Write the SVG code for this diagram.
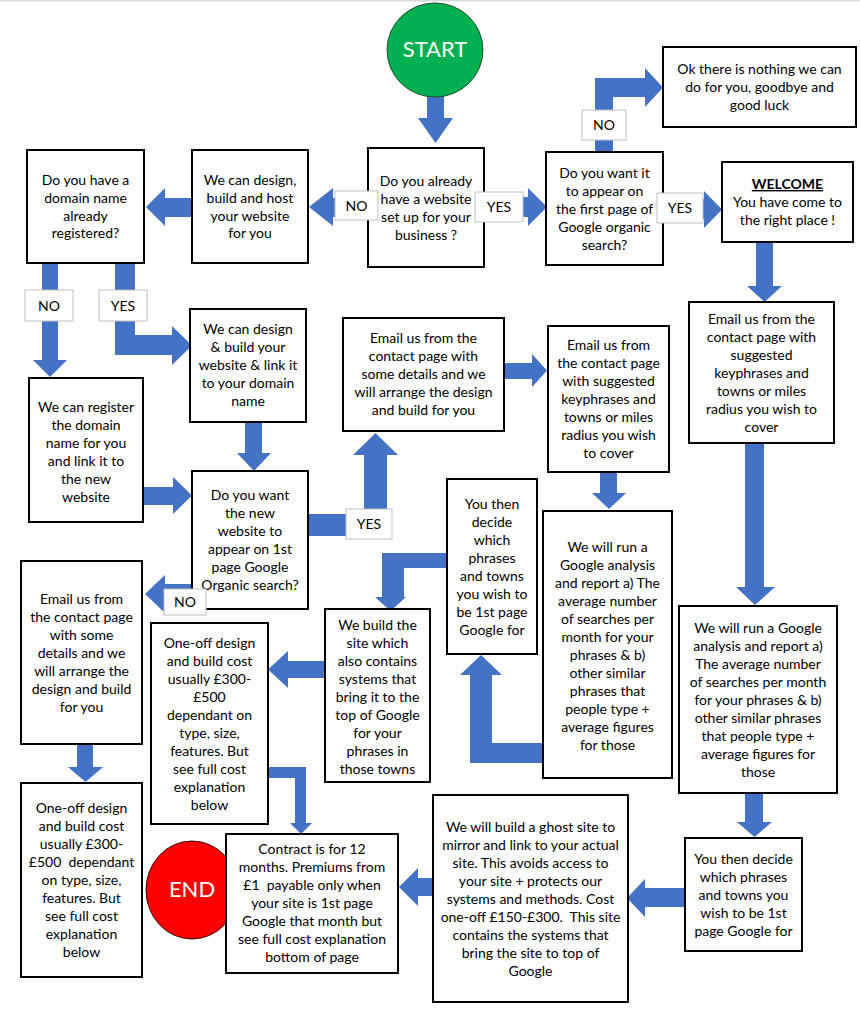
<svg xmlns="http://www.w3.org/2000/svg" width="860" height="1016" viewBox="0 0 860 1016">
<style>
.bg{fill:#ffffff}
.box{fill:#ffffff;stroke:#000000;stroke-width:2}
.lbl{fill:#ffffff;stroke:#bfbfbf;stroke-width:1}
.arr{fill:#4472C4;stroke:none}
.t{font-family:Lato,"Open Sans","Liberation Sans",sans-serif;font-size:14px;fill:#000000;text-anchor:middle;white-space:pre}
.big{font-family:Lato,"Open Sans","Liberation Sans",sans-serif;font-size:22px;fill:#ffffff;text-anchor:middle}
</style>
<rect class="bg" x="0" y="0" width="860" height="1016"/>
<rect x="0" y="0" width="860" height="1.5" fill="#dadada"/>

<g id="connectors">
<polygon class="arr" points="427,90 444,90 444,118 453,118 435.5,143 418,118 427,118"/>
<polygon class="arr" points="368,198 333,198 333,188 309,207 333,226 333,217 368,217"/>
<polygon class="arr" points="193,198 165,198 165,188 146,207 165,226 165,217 193,217"/>
<polygon class="arr" points="484,197 528,197 528,188 547,207 528,226 528,217 484,217"/>
<polygon class="arr" points="663,199 704,199 704,191 722,209.5 704,228 704,219 663,219"/>
<polygon class="arr" points="595,152 595,78 645,78 645,68 663,87.5 645,107 645,97 613,97 613,152"/>
<polygon class="arr" points="756,242 773,242 773,286 782,286 764.5,302 747,286 756,286"/>
<polygon class="arr" points="745,443 764,443 764,587 775,587 755,605 736,587 745,587"/>
<polygon class="arr" points="745,793 763,793 763,822 772,822 754.5,837 737,822 745,822"/>
<polygon class="arr" points="685,888 645,888 645,879 627,898 645,917 645,907 685,907"/>
<polygon class="arr" points="433,878 418,878 418,868 399,887 418,906 418,896 433,896"/>
<polygon class="arr" points="268,767 306,767 306,823 312,823 301,834 290,823 295,823 295,778 268,778"/>
<polygon class="arr" points="42,263 58,263 58,360 67,360 50,377 33,360 42,360"/>
<polygon class="arr" points="115,263 135,263 135,335 172,335 172,326 192,345.5 172,365 172,355 115,355"/>
<polygon class="arr" points="245,422 262,422 262,453 271,453 254,471 237,453 245,453"/>
<polygon class="arr" points="143,487 173,487 173,477 192,495.5 173,514 173,505 143,505"/>
<polygon class="arr" points="308,514 364,514 364,455 353,455 375.5,433 398,455 387,455 387,536 308,536"/>
<polygon class="arr" points="504,363 532,363 532,354 547,370.5 532,387 532,379 504,379"/>
<polygon class="arr" points="600,472 617,472 617,493 626,493 609,509 592,493 600,493"/>
<polygon class="arr" points="543,743 543,763 470,763 470,675 460,675 481,655 502,675 492,675 492,743"/>
<polygon class="arr" points="447,553 447,568 404,568 404,597 406,597 390.5,611 375,597 382,597 382,553"/>
<polygon class="arr" points="325,661 288,661 288,651 268,669.5 288,688 288,678 325,678"/>
<polygon class="arr" points="192,584 165,584 165,575 145,594 165,613 165,603 192,603"/>
<polygon class="arr" points="77,744 93,744 93,767 103,767 85.5,782 68,767 77,767"/>
</g>

<g id="start">
<ellipse cx="435" cy="50" rx="48" ry="47" fill="#00B050" stroke="#234d32" stroke-width="1"/>
<text class="big" x="435" y="57">START</text>
</g>

<g id="end">
<ellipse cx="192" cy="890" rx="46" ry="49" fill="#FF0000" stroke="#3a0000" stroke-width="1"/>
<text class="big" x="192" y="897">END</text>
</g>

<g id="have-website">
<rect class="box" x="368" y="148" width="116" height="119"/>
<text class="t"><tspan x="426" y="186">Do you already</tspan><tspan x="426" y="204">have a website</tspan><tspan x="426" y="222">set up for your</tspan><tspan x="426" y="240">business ?</tspan></text>
</g>

<g id="design-build-host">
<rect class="box" x="192" y="150" width="116" height="113"/>
<text class="t"><tspan x="250" y="185">We can design,</tspan><tspan x="250" y="203">build and host</tspan><tspan x="250" y="221">your website</tspan><tspan x="250" y="238">for you</tspan></text>
</g>

<g id="domain-registered">
<rect class="box" x="27" y="150" width="117" height="113"/>
<text class="t"><tspan x="85.5" y="185">Do you have a</tspan><tspan x="85.5" y="203">domain name</tspan><tspan x="85.5" y="221">already</tspan><tspan x="85.5" y="238">registered?</tspan></text>
</g>

<g id="first-page">
<rect class="box" x="546" y="152" width="117" height="113"/>
<text class="t"><tspan x="604.5" y="178">Do you want it</tspan><tspan x="604.5" y="196">to appear on</tspan><tspan x="604.5" y="214">the first page of</tspan><tspan x="604.5" y="232">Google organic</tspan><tspan x="604.5" y="250">search?</tspan></text>
</g>

<g id="welcome">
<rect class="box" x="722" y="162" width="131" height="80"/>
<text class="t"><tspan x="787.5" y="189" font-weight="bold" text-decoration="underline">WELCOME</tspan><tspan x="787.5" y="207">You have come to</tspan><tspan x="787.5" y="225">the right place !</tspan></text>
</g>

<g id="goodbye">
<rect class="box" x="663" y="47" width="193" height="80"/>
<text class="t"><tspan x="759.5" y="74">Ok there is nothing we can</tspan><tspan x="759.5" y="92">do for you, goodbye and</tspan><tspan x="759.5" y="110">good luck</tspan></text>
</g>

<g id="design-link">
<rect class="box" x="190" y="309" width="116" height="113"/>
<text class="t"><tspan x="248" y="334">We can design</tspan><tspan x="248" y="352">&amp; build your</tspan><tspan x="248" y="370">website &amp; link it</tspan><tspan x="248" y="388">to your domain</tspan><tspan x="248" y="406">name</tspan></text>
</g>

<g id="register">
<rect class="box" x="29" y="378" width="114" height="144"/>
<text class="t"><tspan x="86" y="412">We can register</tspan><tspan x="86" y="430">the domain</tspan><tspan x="86" y="448">name for you</tspan><tspan x="86" y="466">and link it to</tspan><tspan x="86" y="484">the new</tspan><tspan x="86" y="502">website</tspan></text>
</g>

<g id="new-website-first-page">
<rect class="box" x="192" y="471" width="116" height="138"/>
<text class="t"><tspan x="250" y="500">Do you want</tspan><tspan x="250" y="518">the new</tspan><tspan x="250" y="536">website to</tspan><tspan x="250" y="554">appear on 1st</tspan><tspan x="250" y="572">page Google</tspan><tspan x="250" y="590">Organic search?</tspan></text>
</g>

<g id="email-details-mid">
<rect class="box" x="343" y="318" width="161" height="113"/>
<text class="t"><tspan x="423.5" y="343">Email us from the</tspan><tspan x="423.5" y="361">contact page with</tspan><tspan x="423.5" y="379">some details and we</tspan><tspan x="423.5" y="397">will arrange the design</tspan><tspan x="423.5" y="415">and build for you</tspan></text>
</g>

<g id="email-keyphrases-mid">
<rect class="box" x="548" y="326" width="121" height="146"/>
<text class="t"><tspan x="608.5" y="350">Email us from</tspan><tspan x="608.5" y="368">the contact page</tspan><tspan x="608.5" y="386">with suggested</tspan><tspan x="608.5" y="404">keyphrases and</tspan><tspan x="608.5" y="422">towns or miles</tspan><tspan x="608.5" y="440">radius you wish</tspan><tspan x="608.5" y="458">to cover</tspan></text>
</g>

<g id="email-keyphrases-right">
<rect class="box" x="689" y="302" width="145" height="141"/>
<text class="t"><tspan x="761.5" y="324">Email us from the</tspan><tspan x="761.5" y="342">contact page with</tspan><tspan x="761.5" y="360">suggested</tspan><tspan x="761.5" y="378">keyphrases and</tspan><tspan x="761.5" y="396">towns or miles</tspan><tspan x="761.5" y="414">radius you wish to</tspan><tspan x="761.5" y="432">cover</tspan></text>
</g>

<g id="decide-mid">
<rect class="box" x="447" y="479" width="90" height="175"/>
<text class="t"><tspan x="492" y="509">You then</tspan><tspan x="492" y="527">decide</tspan><tspan x="492" y="545">which</tspan><tspan x="492" y="563">phrases</tspan><tspan x="492" y="581">and towns</tspan><tspan x="492" y="599">you wish to</tspan><tspan x="492" y="617">be 1st page</tspan><tspan x="492" y="635">Google for</tspan></text>
</g>

<g id="analysis-mid">
<rect class="box" x="543" y="511" width="129" height="267"/>
<text class="t"><tspan x="607.5" y="552">We will run a</tspan><tspan x="607.5" y="570">Google analysis</tspan><tspan x="607.5" y="588">and report a) The</tspan><tspan x="607.5" y="606">average number</tspan><tspan x="607.5" y="624">of searches per</tspan><tspan x="607.5" y="642">month for your</tspan><tspan x="607.5" y="660">phrases &amp; b)</tspan><tspan x="607.5" y="678">other similar</tspan><tspan x="607.5" y="696">phrases that</tspan><tspan x="607.5" y="714">people type +</tspan><tspan x="607.5" y="732">average figures</tspan><tspan x="607.5" y="750">for those</tspan></text>
</g>

<g id="analysis-right">
<rect class="box" x="679" y="606" width="158" height="187"/>
<text class="t"><tspan x="758" y="633">We will run a Google</tspan><tspan x="758" y="651">analysis and report a)</tspan><tspan x="758" y="669">The average number</tspan><tspan x="758" y="687">of searches per month</tspan><tspan x="758" y="705">for your phrases &amp; b)</tspan><tspan x="758" y="723">other similar phrases</tspan><tspan x="758" y="741">that people type +</tspan><tspan x="758" y="759">average figures for</tspan><tspan x="758" y="777">those</tspan></text>
</g>

<g id="email-details-left">
<rect class="box" x="21" y="561" width="121" height="183"/>
<text class="t"><tspan x="81.5" y="604">Email us from</tspan><tspan x="81.5" y="622">the contact page</tspan><tspan x="81.5" y="640">with some</tspan><tspan x="81.5" y="658">details and we</tspan><tspan x="81.5" y="676">will arrange the</tspan><tspan x="81.5" y="694">design and build</tspan><tspan x="81.5" y="712">for you</tspan></text>
</g>

<g id="build-site">
<rect class="box" x="325" y="609" width="105" height="173"/>
<text class="t"><tspan x="377.5" y="630">We build the</tspan><tspan x="377.5" y="648">site which</tspan><tspan x="377.5" y="666">also contains</tspan><tspan x="377.5" y="684">systems that</tspan><tspan x="377.5" y="702">bring it to the</tspan><tspan x="377.5" y="720">top of Google</tspan><tspan x="377.5" y="738">for your</tspan><tspan x="377.5" y="756">phrases in</tspan><tspan x="377.5" y="774">those towns</tspan></text>
</g>

<g id="cost-mid">
<rect class="box" x="151" y="623" width="117" height="201"/>
<text class="t"><tspan x="209.5" y="648">One-off design</tspan><tspan x="209.5" y="666">and build cost</tspan><tspan x="209.5" y="684">usually £300-</tspan><tspan x="209.5" y="702">£500</tspan><tspan x="209.5" y="720">dependant on</tspan><tspan x="209.5" y="738">type, size,</tspan><tspan x="209.5" y="756">features. But</tspan><tspan x="209.5" y="774">see full cost</tspan><tspan x="209.5" y="792">explanation</tspan><tspan x="209.5" y="810">below</tspan></text>
</g>

<g id="cost-left">
<rect class="box" x="21" y="783" width="121" height="194"/>
<text class="t"><tspan x="81.5" y="813">One-off design</tspan><tspan x="81.5" y="831">and build cost</tspan><tspan x="81.5" y="849">usually £300-</tspan><tspan x="81.5" y="867">£500  dependant</tspan><tspan x="81.5" y="885">on type, size,</tspan><tspan x="81.5" y="903">features. But</tspan><tspan x="81.5" y="921">see full cost</tspan><tspan x="81.5" y="939">explanation</tspan><tspan x="81.5" y="957">below</tspan></text>
</g>

<g id="contract">
<rect class="box" x="226" y="834" width="172" height="139"/>
<text class="t"><tspan x="312" y="854">Contract is for 12</tspan><tspan x="312" y="872">months. Premiums from</tspan><tspan x="312" y="890">£1  payable only when</tspan><tspan x="312" y="908">your site is 1st page</tspan><tspan x="312" y="926">Google that month but</tspan><tspan x="312" y="944">see full cost explanation</tspan><tspan x="312" y="962">bottom of page</tspan></text>
</g>

<g id="ghost-site">
<rect class="box" x="433" y="795" width="195" height="207"/>
<text class="t"><tspan x="530.5" y="832">We will build a ghost site to</tspan><tspan x="530.5" y="850">mirror and link to your actual</tspan><tspan x="530.5" y="868">site. This avoids access to</tspan><tspan x="530.5" y="886">your site + protects our</tspan><tspan x="530.5" y="904">systems and methods. Cost</tspan><tspan x="530.5" y="922">one-off £150-£300.  This site</tspan><tspan x="530.5" y="940">contains the systems that</tspan><tspan x="530.5" y="958">bring the site to top of</tspan><tspan x="530.5" y="976">Google</tspan></text>
</g>

<g id="decide-right">
<rect class="box" x="685" y="838" width="117" height="113"/>
<text class="t"><tspan x="743.5" y="864">You then decide</tspan><tspan x="743.5" y="882">which phrases</tspan><tspan x="743.5" y="900">and towns you</tspan><tspan x="743.5" y="918">wish to be 1st</tspan><tspan x="743.5" y="936">page Google for</tspan></text>
</g>

<g id="labels">
<rect class="lbl" x="335" y="191" width="43" height="29"/><text class="t" x="356.5" y="211">NO</text>
<rect class="lbl" x="475" y="192" width="48" height="30"/><text class="t" x="499" y="212">YES</text>
<rect class="lbl" x="657" y="193" width="46" height="30"/><text class="t" x="680" y="213">YES</text>
<rect class="lbl" x="582" y="110" width="44" height="30"/><text class="t" x="604" y="130">NO</text>
<rect class="lbl" x="25" y="290" width="48" height="31"/><text class="t" x="49" y="310.5">NO</text>
<rect class="lbl" x="99" y="290" width="48" height="31"/><text class="t" x="123" y="310.5">YES</text>
<rect class="lbl" x="346" y="509" width="46" height="30"/><text class="t" x="369" y="529">YES</text>
<rect class="lbl" x="164" y="589" width="42" height="26"/><text class="t" x="185" y="607">NO</text>
</g>
</svg>
